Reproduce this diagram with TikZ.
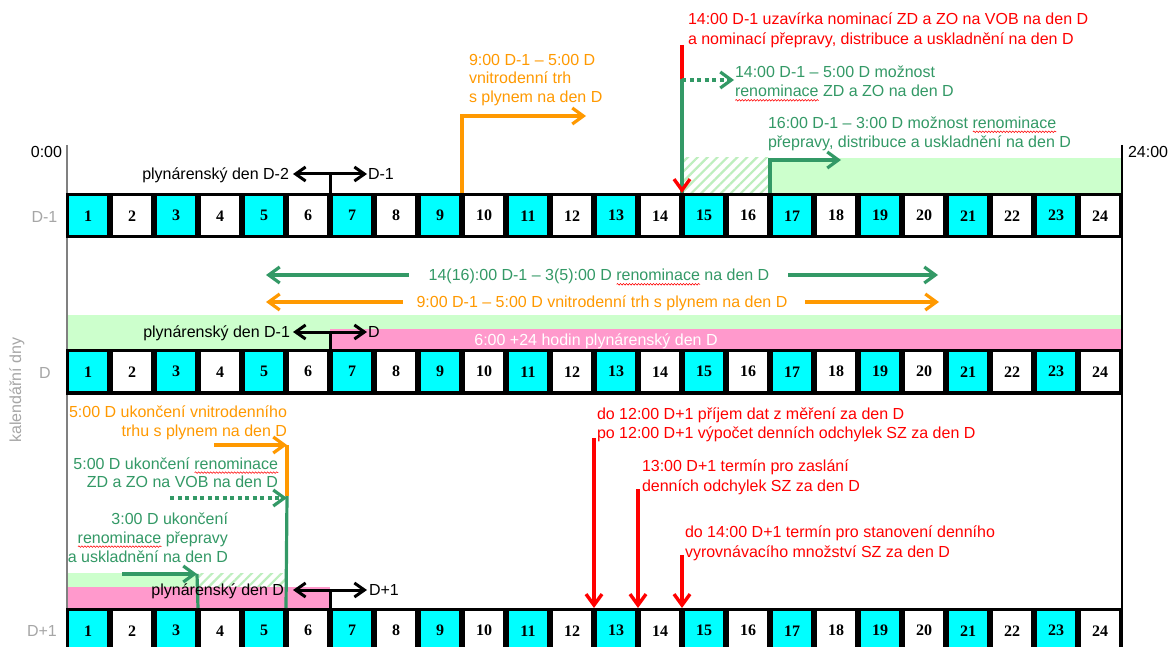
\documentclass[tikz,border=0pt]{standalone}
\usepackage{fontspec}
\setmainfont{Liberation Sans}
\newfontfamily\numfont{Liberation Serif}
\usetikzlibrary{arrows.meta,patterns.meta,calc,decorations.pathmorphing}
\definecolor{tgreen}{HTML}{339966}
\definecolor{torange}{HTML}{FF9900}
\definecolor{tcyan}{HTML}{00FFFF}
\definecolor{lgreen}{HTML}{CCFFCC}
\definecolor{hgreen}{HTML}{BDEEBD}
\definecolor{tpink}{HTML}{FF99CC}
\definecolor{lgray}{HTML}{A6A6A6}
\definecolor{axgray}{HTML}{808080}
\newsavebox\spbox
\newlength\splen
\newcommand\sperr[1]{\leavevmode\sbox\spbox{#1}\setlength\splen{\wd\spbox}%
  \rlap{\raisebox{-3.6pt}[0pt][0pt]{\tikz[x=1pt,y=1pt,baseline=0pt]\draw[red,line width=0.55pt,decorate,decoration={snake,amplitude=0.8pt,segment length=3pt}] (0,0) -- (\splen,0);}}%
  \usebox\spbox}
\tikzset{
  txt/.style={font=\fontsize{16}{19}\selectfont, inner sep=0pt, outer sep=0pt},
  rtxt/.style={txt, text=red},
  otxt/.style={txt, text=torange},
  gtxt/.style={txt, text=tgreen},
  ktxt/.style={txt, text=black},
  rowlab/.style={txt, text=lgray},
  cellnum/.style={font=\numfont\bfseries\fontsize{16}{16}\selectfont, inner sep=0pt},
  arw/.style={-{Straight Barb[length=11pt,width=16pt]}},
  dblarw/.style={{Straight Barb[length=10pt,width=14pt]}-{Straight Barb[length=10pt,width=14pt]}},
  orline/.style={draw=torange, line width=3.2pt},
  grline/.style={draw=tgreen, line width=3.2pt},
  redline/.style={draw=red, line width=3.4pt},
  blkline/.style={draw=black, line width=3pt},
  dotline/.style={dash pattern=on 4pt off 3.5pt},
  hatch/.style={pattern={Lines[angle=45,distance=7pt,line width=2.2pt]}, pattern color=hgreen},
}
\begin{document}
\begin{tikzpicture}[x=1pt,y=-1pt]
\useasboundingbox (0,0) rectangle (1173,647);
\fill[white] (0,0) rectangle (1173,647);

% coordinates of hour boundaries on the three day bars
\foreach \i in {0,...,24}{
  \coordinate (a\i) at ({66+44*\i},193);
  \coordinate (b\i) at ({66+44*\i},349);
  \coordinate (c\i) at ({66+44*\i},608);
}

% bands
\fill[lgreen] (770,158) rectangle (1122,193);
\fill[hatch] (682,158) rectangle (770,193);
\fill[lgreen] (66,315) rectangle (1122,349);
\fill[tpink] (330,329) rectangle (1122,349);
\fill[lgreen] (66,573) rectangle (197,587);
\fill[hatch] (197,573) rectangle (287,587);
\fill[tpink] (66,587) rectangle (330,608);

% axes
\coordinate (axLt) at (67,145); \coordinate (axLb) at (67,647);
\coordinate (axRt) at (1122,145); \coordinate (axRb) at (1122,647);
\draw[axgray, line width=2pt] (axLt) -- (axLb);
\draw[black, line width=1.2pt] (axRt) -- (axRb);

% day bars
\foreach \t/\r in {193/a,349/b,608/c}{
  \fill[black] (65.5,\t) rectangle (1122.5,{\t+45.5});
  \foreach \i in {1,...,24}{
    \pgfmathsetmacro\xl{66+44*(\i-1)+2.6}
    \pgfmathsetmacro\xr{66+44*\i-2.6}
    \pgfmathtruncatemacro\odd{mod(\i,2)}
    \ifnum\odd=1 \def\cc{tcyan}\else\def\cc{white}\fi
    \fill[\cc] (\xl,{\t+3.3}) rectangle (\xr,{\t+42.2});
    \node[cellnum] (\r n\i) at ({(\xl+\xr)/2},{\t+22.75}) {\i};
  }
}

% axis and row labels
\node[ktxt, anchor=base east] (t0) at (62,157.7) {0:00};
\node[ktxt, anchor=base west] (t24) at (1128,157.7) {24:00};
\node[rowlab] (lDm) at (44.5,217) {D-1};
\node[rowlab] (lD) at (45,373) {D};
\node[rowlab] (lDp) at (42,631) {D+1};
\node[rowlab, rotate=90] (lkal) at (17,390) {kalendářní dny};

% ---- D-1 row annotations ----
\node[rtxt, anchor=base west] (r1a) at (688,24.7) {14:00 D-1 uzavírka nominací ZD a ZO na VOB na den D};
\node[rtxt, anchor=base west] (r1b) at (688,44.7) {a nominací přepravy, distribuce a uskladnění na den D};

\node[otxt, anchor=base west] (o1a) at (469,65.7) {9:00 D-1 – 5:00 D};
\node[otxt, anchor=base west] (o1b) at (469,83.5) {vnitrodenní trh};
\node[otxt, anchor=base west] (o1c) at (469,102.7) {s plynem na den D};

\node[gtxt, anchor=base west] (g1a) at (735,77.7) {14:00 D-1 – 5:00 D možnost};
\node[gtxt, anchor=base west] (g1b) at (735,96.7) {\sperr{renominace} ZD a ZO na den D};

\node[gtxt, anchor=base west] (g2a) at (768,128.2) {16:00 D-1 – 3:00 D možnost \sperr{renominace}};
\node[gtxt, anchor=base west] (g2b) at (768,147.7) {přepravy, distribuce a uskladnění na den D};

\coordinate (oC) at (462,116); \coordinate (oE) at (586,116);
\draw[orline, arw] (a9) -- (oC) -- (oE);

\coordinate (rTop) at (682,45); \coordinate (rMid) at (682,79);
\draw[redline] (rTop) -- (rMid);
\draw[grline] (rMid) -- (a14);
\coordinate (rTipS) at (682,190);
\draw[redline, arw] (rTipS) -- (a14);

\coordinate (gdS) at (682,80); \coordinate (gdE) at (734,80);
\draw[grline, dotline, arw] (gdS) -- (gdE);

\coordinate (g2C) at (770,160); \coordinate (g2E) at (841,160);
\draw[grline, arw] (a16) -- (g2C) -- (g2E);

\node[ktxt, anchor=base east] (pdA) at (289,179.7) {plynárenský den D-2};
\node[ktxt, anchor=base west] (pdAr) at (368,179.7) {D-1};
\coordinate (dAl) at (293,174); \coordinate (dAr) at (367,174); \coordinate (dAm) at (330,174);
\draw[blkline, dblarw] (dAl) -- (dAr);
\draw[blkline] (dAm) -- (a6);

% ---- between D-1 and D ----
\node[gtxt, anchor=base] (mg) at (599,280.7) {14(16):00 D-1 – 3(5):00 D \sperr{renominace} na den D};
\node[otxt, anchor=base] (mo) at (602,307.7) {9:00 D-1 – 5:00 D vnitrodenní trh s plynem na den D};
\coordinate (mgL) at (266,275); \coordinate (mgR) at (938,275);
\coordinate (moL) at (266,302); \coordinate (moR) at (939,302);
\draw[grline, arw] ($(mg.west |- mgL)+(-20,0)$) -- (mgL);
\draw[grline, arw] ($(mg.east |- mgR)+(19,0)$) -- (mgR);
\draw[orline, arw] ($(mo.west |- moL)+(-14,0)$) -- (moL);
\draw[orline, arw] ($(mo.east |- moR)+(18,0)$) -- (moR);

% ---- D row ----
\node[ktxt, anchor=base east] (pdB) at (290,337.4) {plynárenský den D-1};
\node[ktxt, anchor=base west] (pdBr) at (368,337.4) {D};
\coordinate (dBl) at (293,332); \coordinate (dBr) at (367,332); \coordinate (dBm) at (330,332);
\draw[blkline, dblarw] (dBl) -- (dBr);
\draw[blkline] (dBm) -- (b6);
\node[txt, text=white, anchor=base] (pink) at (596,345.7) {6:00 +24 hodin plynárenský den D};

% ---- below D row ----
\node[otxt, anchor=base east] (o2a) at (287,417.4) {5:00 D ukončení vnitrodenního};
\node[otxt, anchor=base east] (o2b) at (287,436.5) {trhu s plynem na den D};
\coordinate (oB1) at (214,445); \coordinate (oB2) at (287,445); \coordinate (oB3) at (287,496);
\draw[orline, arw] (oB1) -- (oB2);
\draw[orline] (oB2) -- (oB3);
\draw[grline] (oB3) -- (c5);

\node[gtxt, anchor=base east] (g3a) at (278,469) {5:00 D ukončení \sperr{renominace}};
\node[gtxt, anchor=base east] (g3b) at (278,487.4) {ZD a ZO na VOB na den D};
\coordinate (gd2S) at (170,498); \coordinate (gd2E) at (287,498);
\draw[grline, dotline, arw] (gd2S) -- (gd2E);

\node[gtxt, anchor=base east] (g4a) at (228,524) {3:00 D ukončení};
\node[gtxt, anchor=base east] (g4b) at (228,543) {\sperr{renominace} přepravy};
\node[gtxt, anchor=base east] (g4c) at (228,562.4) {a uskladnění na den D};
\coordinate (g4S) at (122,574); \coordinate (g4C) at (197,574);
\draw[grline, arw] (g4S) -- (g4C);
\draw[grline] (g4C) -- (c3);

\node[ktxt, anchor=base east] (pdC) at (284,595.7) {plynárenský den D};
\node[ktxt, anchor=base west] (pdCr) at (369,595.7) {D+1};
\coordinate (dCl) at (293,590); \coordinate (dCr) at (367,590); \coordinate (dCm) at (330,590);
\draw[blkline, dblarw] (dCl) -- (dCr);
\draw[blkline] (dCm) -- (c6);

\node[rtxt, anchor=base west] (r2a) at (597,419) {do 12:00 D+1 příjem dat z měření za den D};
\node[rtxt, anchor=base west] (r2b) at (597,438.4) {po 12:00 D+1 výpočet denních odchylek SZ za den D};
\node[rtxt, anchor=base west] (r3a) at (642,471.4) {13:00 D+1 termín pro zaslání};
\node[rtxt, anchor=base west] (r3b) at (642,491.4) {denních odchylek SZ za den D};
\node[rtxt, anchor=base west] (r4a) at (685,537.4) {do 14:00 D+1 termín pro stanovení denního};
\node[rtxt, anchor=base west] (r4b) at (685,557.4) {vyrovnávacího množství SZ za den D};
\coordinate (rA) at (594,438); \coordinate (rB) at (638,489); \coordinate (rC) at (682,555);
\draw[redline, arw] (rA) -- (c12);
\draw[redline, arw] (rB) -- (c13);
\draw[redline, arw] (rC) -- (c14);
\end{tikzpicture}
\end{document}
